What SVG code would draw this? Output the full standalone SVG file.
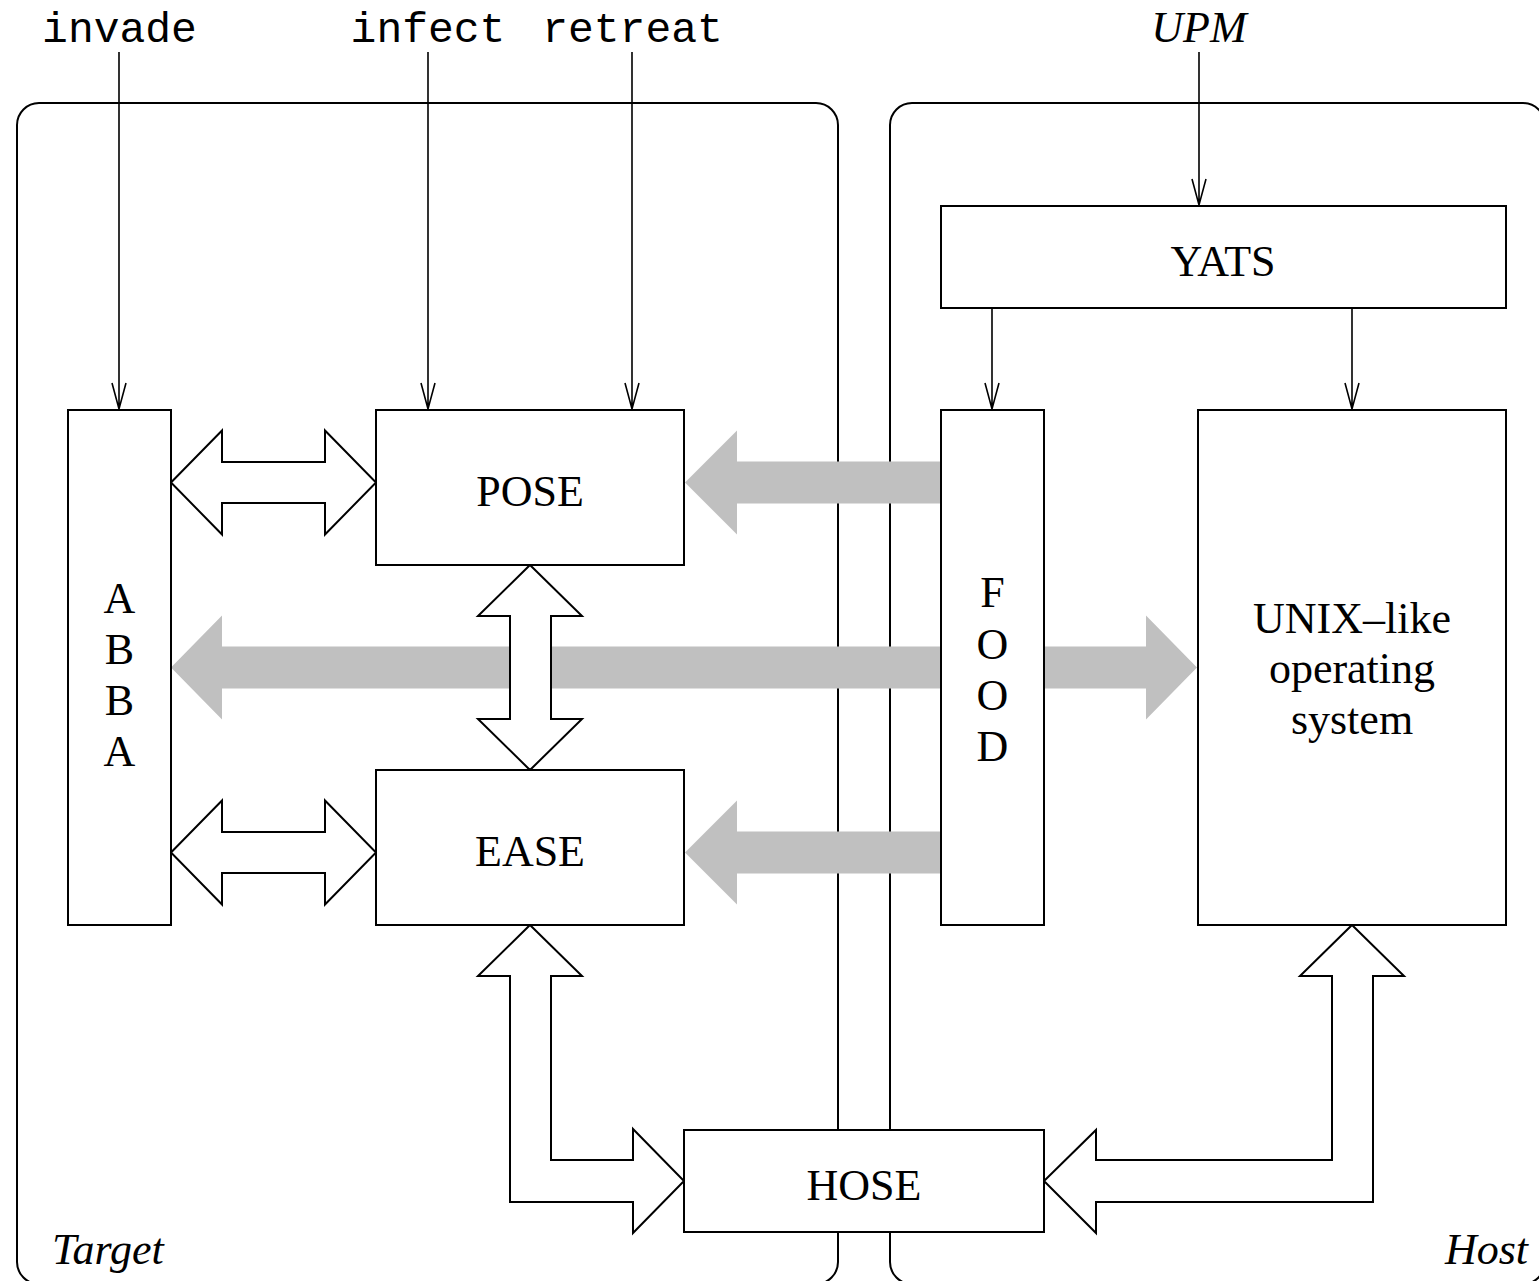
<svg xmlns="http://www.w3.org/2000/svg" width="1539" height="1281" viewBox="0 0 1539 1281">
<style>
.cont{fill:none;stroke:#000;stroke-width:2}
.box{fill:#fff;stroke:#000;stroke-width:2}
.gray{fill:#c0c0c0;stroke:none}
.warr{fill:#fff;stroke:#000;stroke-width:2;stroke-linejoin:miter}
.ln{fill:none;stroke:#000;stroke-width:1.6}
.t{font-family:"Liberation Serif","Times New Roman",serif;font-size:44px;text-anchor:middle;fill:#000}
.ti{font-family:"Liberation Serif","Times New Roman",serif;font-size:44px;font-style:italic;fill:#000}
.m{font-family:"Liberation Mono","Courier New",monospace;font-size:43px;text-anchor:middle;fill:#000}
</style>
<g id="containers">
<rect id="target" class="cont" x="17" y="103" width="821" height="1181" rx="22"/>
<rect id="host" class="cont" x="890" y="103" width="655" height="1181" rx="22"/>
<text class="ti" x="52" y="1264">Target</text>
<text class="ti" x="1528" y="1264" text-anchor="end">Host</text>
</g>
<g id="inputs">
<text class="m" x="119.5" y="42">invade</text>
<text class="m" x="428" y="42">infect</text>
<text class="m" x="632.5" y="42">retreat</text>
<text class="ti" x="1199" y="42" text-anchor="middle">UPM</text>
</g>
<g id="connectors">
<polygon class="gray" points="685,482.5 737,430.5 737,461.5 941,461.5 941,503.5 737,503.5 737,534.5"/>
<polygon class="gray" points="685,852.5 737,800.5 737,831.5 941,831.5 941,873.5 737,873.5 737,904.5"/>
<polygon class="gray" points="171,667.5 222,615.5 222,646.5 1146,646.5 1146,615.5 1197,667.5 1146,719.5 1146,688.5 222,688.5 222,719.5"/>
<path class="ln" d="M119,52V409M112,383L119,409L126,383"/>
<path class="ln" d="M428,52V409M421,383L428,409L435,383"/>
<path class="ln" d="M632,52V409M625,383L632,409L639,383"/>
<path class="ln" d="M1199,52V205M1192,179L1199,205L1206,179"/>
<path class="ln" d="M992,308V409M985,383L992,409L999,383"/>
<path class="ln" d="M1352,308V409M1345,383L1352,409L1359,383"/>
<polygon class="warr" points="171,482.5 222,430.5 222,462 325,462 325,430.5 376,482.5 325,534.5 325,503 222,503 222,534.5"/>
<polygon class="warr" points="171,852.5 222,800.5 222,832 325,832 325,800.5 376,852.5 325,904.5 325,873 222,873 222,904.5"/>
<polygon class="warr" points="530,565 582,616 551,616 551,719 582,719 530,770 478,719 510,719 510,616 478,616"/>
<polygon class="warr" points="530,925 582,976 551,976 551,1160 633,1160 633,1129 684,1181 633,1233 633,1202 510,1202 510,976 478,976"/>
<polygon class="warr" points="1352,925 1404,976 1373,976 1373,1202 1096,1202 1096,1233 1044,1181 1096,1130 1096,1160 1332,1160 1332,976 1300,976"/>
</g>
<g id="abba">
<rect class="box" x="68" y="410" width="103" height="515"/>
<text class="t" x="119.5" y="613">A</text>
<text class="t" x="119.5" y="664">B</text>
<text class="t" x="119.5" y="715">B</text>
<text class="t" x="119.5" y="766">A</text>
</g>
<g id="pose">
<rect class="box" x="376" y="410" width="308" height="155"/>
<text class="t" x="530" y="506">POSE</text>
</g>
<g id="ease">
<rect class="box" x="376" y="770" width="308" height="155"/>
<text class="t" x="530" y="866">EASE</text>
</g>
<g id="yats">
<rect class="box" x="941" y="206" width="565" height="102"/>
<text class="t" x="1223" y="276">YATS</text>
</g>
<g id="food">
<rect class="box" x="941" y="410" width="103" height="515"/>
<text class="t" x="992.5" y="607">F</text>
<text class="t" x="992.5" y="659">O</text>
<text class="t" x="992.5" y="710">O</text>
<text class="t" x="992.5" y="761">D</text>
</g>
<g id="unix">
<rect class="box" x="1198" y="410" width="308" height="515"/>
<text class="t" x="1352" y="633">UNIX–like</text>
<text class="t" x="1352" y="683">operating</text>
<text class="t" x="1352" y="734">system</text>
</g>
<g id="hose">
<rect class="box" x="684" y="1130" width="360" height="102"/>
<text class="t" x="864" y="1200">HOSE</text>
</g>
</svg>
